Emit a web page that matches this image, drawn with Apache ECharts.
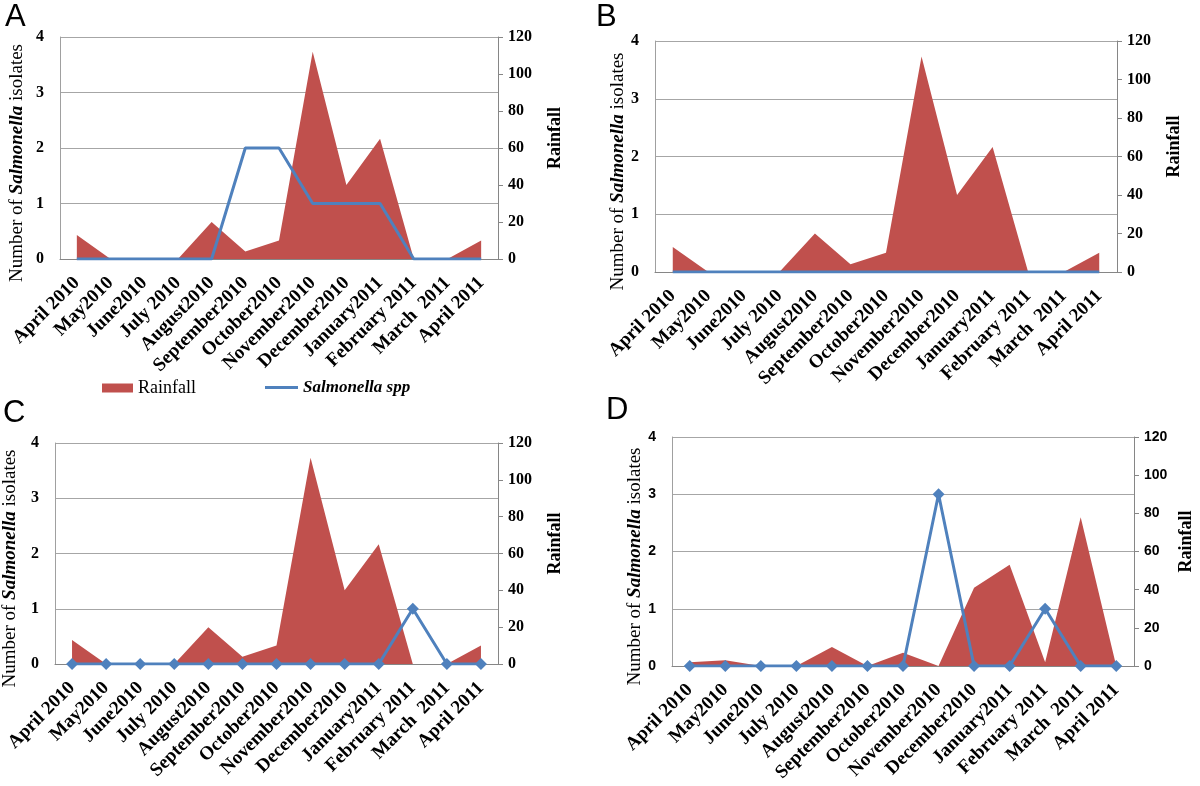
<!DOCTYPE html>
<html>
<head>
<meta charset="utf-8">
<script src="https://cdn.jsdelivr.net/npm/echarts@6/dist/echarts.min.js"></script>
<style>
  html, body { margin: 0; padding: 0; background: #fff; }
  #chart { width: 1200px; height: 786px; }
</style>
</head>
<body>
<div id="chart"></div>
<script>
// months on the x axis (spelling kept as in the figure)
const months = ['April 2010', 'May2010', 'June2010', 'July 2010', 'August2010', 'September2010',
  'October2010', 'November2010', 'December2010', 'January2011', 'February 2011', 'March  2011', 'April 2011']

// rainfall, right axis (A, B and C share the same record)
const rainfallABC = [13, 0, 0, 0, 20, 4, 10, 112, 40, 65, 0, 0, 10]
const rainfallD = [2, 3, 0, 0, 10, 0, 7, 0, 41, 53, 2, 78, 0]

// number of Salmonella isolates, left axis
const salmonellaA = [0, 0, 0, 0, 0, 2, 2, 1, 1, 1, 0, 0, 0]
const salmonellaB = [0, 0, 0, 0, 0, 0, 0, 0, 0, 0, 0, 0, 0]
const salmonellaC = [0, 0, 0, 0, 0, 0, 0, 0, 0, 0, 1, 0, 0]
const salmonellaD = [0, 0, 0, 0, 0, 0, 0, 3, 0, 0, 1, 0, 0]

const leftTicks = [0, 1, 2, 3, 4]
const rightTicks = [0, 20, 40, 60, 80, 100, 120]

const RED = '#c0504d'
const BLUE = '#4f81bd'
const SERIF = '"Liberation Serif", "Times New Roman", serif'
const SANS = '"Liberation Sans", Arial, sans-serif'

// panel boxes
const panels = [
  { letter: 'A', grid: { left: 60, top: 37, width: 438, height: 222 }, rain: rainfallABC, sal: salmonellaA, marker: false, sansTicks: false, lx: 5, ly: 2, gapL: 33, gapR: 48 },
  { letter: 'B', grid: { left: 655, top: 41, width: 462, height: 231 }, rain: rainfallABC, sal: salmonellaB, marker: false, sansTicks: false, lx: 596, ly: 2, gapL: 18, gapR: 48 },
  { letter: 'C', grid: { left: 52, top: 443, width: 446, height: 221 }, rain: rainfallABC, sal: salmonellaC, marker: true, sansTicks: false, lx: 3, ly: 398, gapL: 35, gapR: 48 },
  { letter: 'D', grid: { left: 672, top: 437, width: 462, height: 229 }, rain: rainfallD, sal: salmonellaD, marker: true, sansTicks: true, lx: 606, ly: 395, gapL: 18, gapR: 43 }
]

const chart = echarts.init(document.getElementById('chart'))

const grid = [], xAxis = [], yAxis = [], series = [], graphic = []

panels.forEach((p, i) => {
  grid.push(Object.assign({ containLabel: false }, p.grid))

  xAxis.push({
    type: 'category',
    gridIndex: i,
    data: months,
    boundaryGap: true,
    axisLine: { lineStyle: { color: '#868686', width: 1 } },
    axisTick: { show: false },
    axisLabel: {
      interval: 0, rotate: 45, margin: 21,
      fontFamily: SERIF, fontWeight: 'bold', fontSize: 19, color: '#000'
    }
  })

  const tickFont = p.sansTicks
    ? { fontFamily: SANS, fontWeight: 'bold', fontSize: 14, color: '#000' }
    : { fontFamily: SERIF, fontWeight: 'bold', fontSize: 16, color: '#000' }

  yAxis.push({
    type: 'value',
    gridIndex: i,
    position: 'left',
    min: leftTicks[0], max: leftTicks[leftTicks.length - 1], interval: 1,
    axisLine: { show: true, lineStyle: { color: '#a0a0a0' } },
    axisTick: { show: false },
    splitLine: { lineStyle: { color: '#a6a6a6', width: 1 } },
    axisLabel: Object.assign({ margin: 16 }, tickFont),
    name: '{n|Number of }{s|Salmonella}{n| isolates}',
    nameLocation: 'middle',
    nameRotate: 90,
    nameGap: p.gapL,
    nameTextStyle: {
      padding: [0, 30, 0, 0],
      rich: {
        n: { fontFamily: SERIF, fontSize: 19, color: '#000' },
        s: { fontFamily: SERIF, fontSize: 19, fontStyle: 'italic', fontWeight: 'bold', color: '#000' }
      }
    }
  })

  yAxis.push({
    type: 'value',
    gridIndex: i,
    position: 'right',
    min: rightTicks[0], max: rightTicks[rightTicks.length - 1], interval: 20,
    axisLine: { show: true, lineStyle: { color: '#868686' } },
    axisTick: { show: true, length: 5, lineStyle: { color: '#868686' } },
    splitLine: { show: false },
    axisLabel: Object.assign({ margin: 10 }, tickFont),
    name: 'Rainfall',
    nameLocation: 'middle',
    nameRotate: 90,
    nameGap: p.gapR,
    nameTextStyle: {
      fontFamily: SERIF, fontWeight: 'bold', fontSize: 18, color: '#000',
      padding: [0, 0, 0, 20]
    }
  })

  series.push({
    name: 'Rainfall',
    type: 'line',
    xAxisIndex: i,
    yAxisIndex: i * 2 + 1,
    data: p.rain,
    symbol: 'none',
    lineStyle: { width: 0 },
    areaStyle: { color: RED, opacity: 1 },
    itemStyle: { color: RED },
    z: 2
  })

  series.push({
    name: 'Salmonella spp',
    type: 'line',
    xAxisIndex: i,
    yAxisIndex: i * 2,
    data: p.sal,
    symbol: p.marker ? 'diamond' : 'none',
    symbolSize: 12,
    lineStyle: { width: 3, color: BLUE },
    itemStyle: { color: BLUE },
    z: 3
  })

  graphic.push({
    type: 'text',
    left: p.lx,
    top: p.ly,
    style: { text: p.letter, font: '31px ' + SANS, fill: '#000' }
  })
})

chart.setOption({
  animation: false,
  backgroundColor: '#fff',
  grid,
  xAxis,
  yAxis,
  series,
  graphic,
  legend: [
    {
      data: [{ name: 'Rainfall', icon: 'rect' }],
      left: 102, top: 379,
      padding: 0,
      itemWidth: 31, itemHeight: 9,
      selectedMode: false,
      textStyle: { fontFamily: SERIF, fontSize: 18, color: '#000' }
    },
    {
      data: [{ name: 'Salmonella spp', icon: 'rect' }],
      left: 265, top: 379,
      padding: 0,
      itemWidth: 33, itemHeight: 3,
      selectedMode: false,
      textStyle: { fontFamily: SERIF, fontSize: 17, fontStyle: 'italic', fontWeight: 'bold', color: '#000' }
    }
  ]
})
</script>
</body>
</html>
